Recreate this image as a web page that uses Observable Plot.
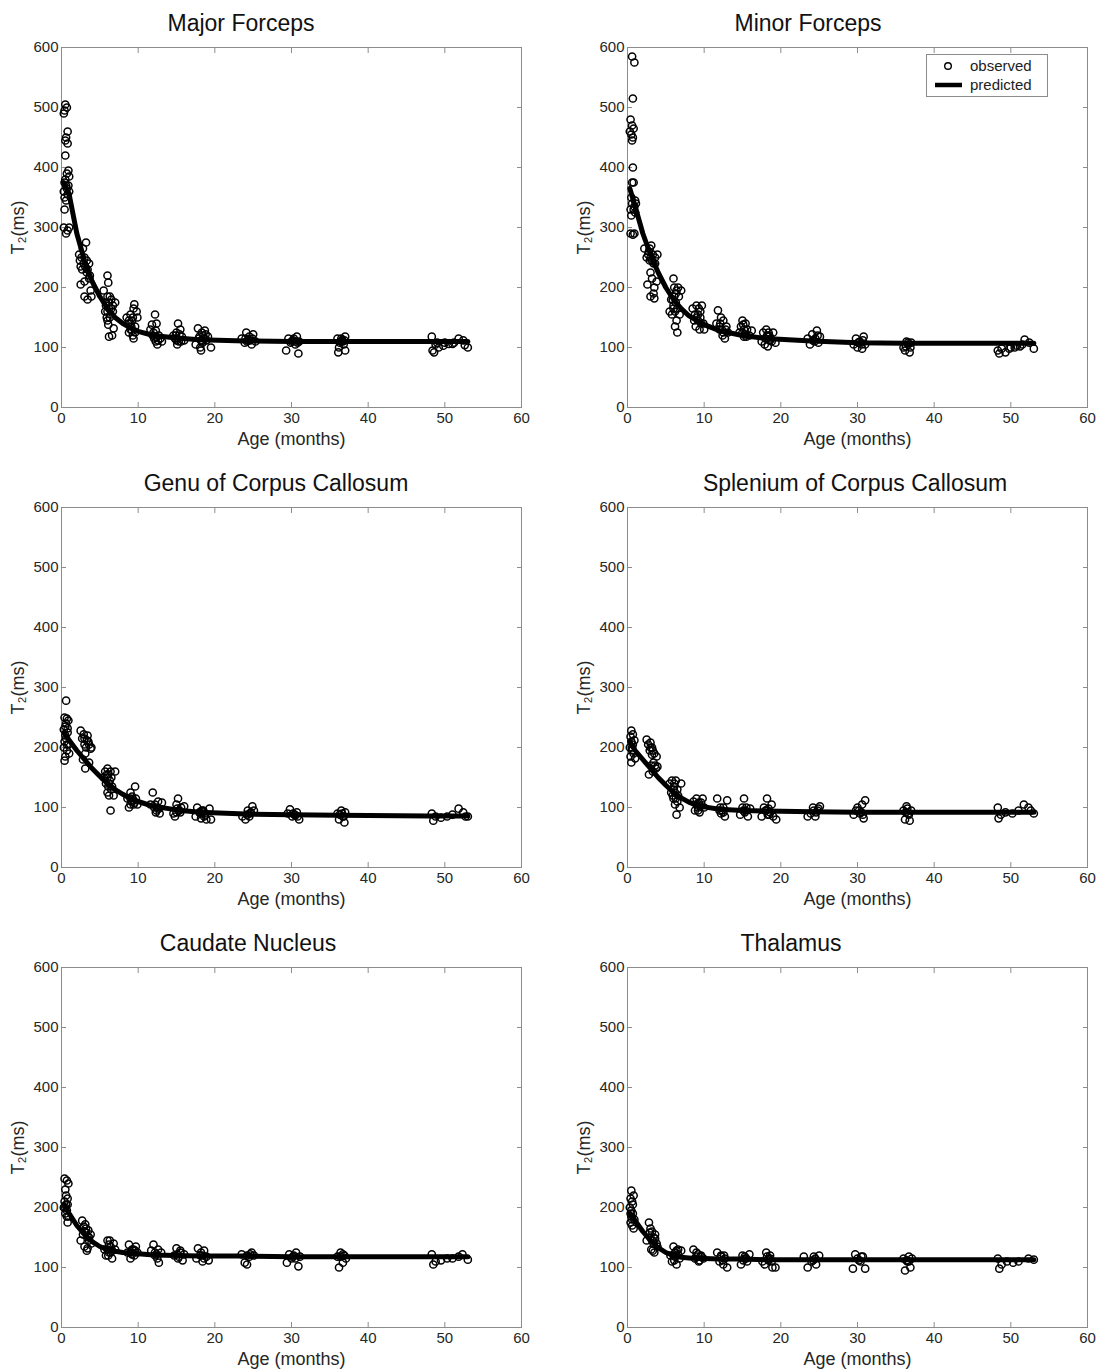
<!DOCTYPE html>
<html>
<head>
<meta charset="utf-8">
<script src="https://cdn.jsdelivr.net/npm/d3@7"></script>
<script src="https://cdn.jsdelivr.net/npm/@observablehq/plot@0.6"></script>
<style>
  body { margin: 0; background: #fff; }
  #fig { position: relative; width: 1100px; height: 1370px; font-family: "Liberation Sans", Arial, Helvetica, sans-serif; }
  .panel { position: absolute; width: 550px; height: 460px; }
  .panel svg { position: absolute; left: 0; top: 0; }
  .title { position: absolute; top: 12px; font-size: 23px; line-height: 23px; white-space: nowrap; color: #111; transform: translateX(-50%); }
  .legend { position: absolute; border: 1px solid #8c8c8c; background: #fff; font-size: 15px; color: #222; }
  .legend .row { position: absolute; left: 0; height: 18px; white-space: nowrap; }
  .legend .row span { position: absolute; left: 43px; top: 0; line-height: 18px; }
  .legend .row svg { position: absolute; left: 0; top: 0; }
</style>
</head>
<body>
<div id="fig"></div>
<script>
// ---------- data ----------
const panelTitles = ["Major Forceps", "Minor Forceps", "Genu of Corpus Callosum",
  "Splenium of Corpus Callosum", "Caudate Nucleus", "Thalamus"];
const xTicks = [0, 10, 20, 30, 40, 50, 60];
const yTicks = [0, 100, 200, 300, 400, 500, 600];
const xLabel = "Age (months)";
const yLabel = "T\u2082(ms)";
const legendLabels = ["observed", "predicted"];

// observed [age (months), T2 (ms)]
const majorObserved = [
  [0.5,505],[0.7,500],[0.4,495],[0.3,490],[0.8,460],[0.6,450],[0.5,445],[0.8,440],[0.5,420],[0.9,395],[0.7,390],[1.0,385],[0.4,375],[0.6,370],[1.0,360],[0.8,355],[0.4,350],[0.4,330],[0.3,300],[0.8,295],[0.6,290],[1.0,300],
  [0.5,380],[0.7,365],[0.9,370],[0.6,345],[0.3,360],
  [2.3,255],[2.5,235],[2.5,205],[2.8,265],[3.0,250],[3.0,210],[3.0,185],[3.2,275],[3.3,245],[3.3,225],[3.4,180],[3.6,240],[3.7,220],[3.8,195],[3.9,185],[2.7,230],
  [2.6,250],[2.9,240],[3.1,235],[3.4,230],[3.6,215],[2.4,245],
  [5.5,195],[5.7,160],[5.8,175],[5.9,150],[6.0,220],[6.0,185],[6.1,208],[6.1,138],[6.2,165],[6.2,118],[6.4,155],[6.5,180],[6.6,120],[6.8,132],[7.0,175],[6.7,160],
  [5.8,170],[6.0,160],[6.2,175],[6.3,150],[6.5,165],[6.7,170],[6.0,145],[6.3,185],
  [8.5,150],[8.7,140],[8.8,125],[9.0,155],[9.0,130],[9.2,145],[9.3,120],[9.4,165],[9.5,172],[9.6,135],[9.8,160],[9.9,150],[9.4,115],
  [8.8,145],[9.0,140],[9.2,128],[9.3,150],[9.6,125],[9.1,135],
  [11.6,130],[11.8,138],[12.0,125],[12.2,155],[12.3,110],[12.4,140],[12.5,105],[12.7,120],[12.9,115],[13.1,110],
  [11.9,120],[12.1,115],[12.3,128],[12.6,112],[12.2,118],
  [14.6,120],[14.8,115],[15.0,125],[15.2,140],[15.3,110],[15.5,130],[15.7,118],[16.0,112],[15.1,105],
  [14.9,120],[15.1,115],[15.4,122],[15.6,110],[15.0,112],
  [17.5,105],[17.8,132],[17.9,115],[18.1,100],[18.2,95],[18.3,125],[18.5,120],[18.7,128],[18.9,112],[19.1,118],[19.5,100],
  [18.0,118],[18.2,112],[18.4,108],[18.6,115],[18.8,122],[18.3,110],
  [23.5,115],[23.9,108],[24.1,125],[24.3,112],[24.5,118],[24.8,105],[25.0,122],[25.3,110],
  [24.0,115],[24.2,110],[24.6,112],[24.9,115],
  [29.3,95],[29.6,115],[29.9,108],[30.2,112],[30.5,105],[30.7,118],[30.9,90],[31.0,110],
  [30.0,110],[30.3,115],[30.6,110],[30.8,108],
  [36.0,115],[36.1,92],[36.2,100],[36.4,110],[36.6,112],[36.8,105],[37.0,118],[37.0,95],
  [36.3,108],[36.5,115],[36.7,110],[36.9,112],
  [48.3,118],[48.4,95],[48.6,92],[48.8,105],[49.2,100],[49.8,103],[50.5,106],[51.2,108],[51.8,115],[52.4,112],[52.6,104],[53.0,100],
  [49.0,108],[50.0,108],[51.0,106]
];
const minorObserved = [
  [0.6,585],[0.9,575],[0.7,515],[0.4,480],[0.6,470],[0.8,465],[0.3,460],[0.5,455],[0.7,450],[0.6,445],[0.7,400],[0.6,375],[0.8,375],[0.4,330],[0.5,320],[1.0,345],[0.9,335],[0.4,290],[0.7,288],[0.9,290],[1.1,340],
  [0.5,350],[0.6,340],[0.8,330],[1.0,325],
  [2.2,265],[2.5,250],[2.6,205],[2.8,260],[2.9,245],[3.0,225],[3.0,185],[3.1,270],[3.2,215],[3.3,255],[3.4,190],[3.5,200],[3.6,240],[3.8,210],[3.9,255],[3.5,182],
  [2.7,255],[3.0,250],[3.2,245],[3.4,240],[2.9,265],[3.6,250],
  [5.5,160],[5.7,180],[5.8,155],[6.0,215],[6.0,170],[6.1,200],[6.2,135],[6.3,190],[6.4,145],[6.5,125],[6.6,200],[6.8,155],[7.0,195],[6.5,165],
  [5.9,180],[6.1,185],[6.3,175],[6.4,195],[6.0,165],[6.7,185],[6.2,160],
  [8.5,165],[8.7,145],[8.9,135],[9.0,170],[9.2,155],[9.4,130],[9.5,150],[9.7,170],[9.9,140],[10.0,130],
  [8.8,155],[9.0,150],[9.2,145],[9.5,160],[9.6,140],[9.3,165],
  [11.6,140],[11.8,162],[12.0,130],[12.2,150],[12.4,120],[12.5,145],[12.7,115],[12.9,135],[13.1,125],
  [12.0,135],[12.3,130],[12.5,125],[12.8,130],[12.1,140],
  [14.6,125],[14.8,135],[15.0,145],[15.2,118],[15.4,140],[15.6,130],[15.9,120],[16.2,128],
  [15.0,125],[15.2,130],[15.3,122],[15.5,118],[15.1,138],
  [17.5,110],[17.7,125],[17.9,105],[18.1,130],[18.3,102],[18.5,120],[18.7,115],[19.0,125],[19.3,108],
  [18.0,115],[18.2,120],[18.4,125],[18.6,112],[18.3,118],[18.8,110],
  [23.5,115],[23.8,105],[24.1,122],[24.4,110],[24.7,128],[24.9,108],[25.1,118],
  [24.2,112],[24.5,115],[24.8,120],
  [29.5,105],[29.8,115],[30.0,100],[30.3,110],[30.6,98],[30.8,118],[31.0,105],
  [30.1,108],[30.5,105],[30.7,112],
  [36.0,100],[36.2,95],[36.4,110],[36.6,105],[36.8,92],[37.0,108],
  [36.3,102],[36.6,108],[36.9,100],
  [48.3,95],[48.5,90],[48.8,98],[49.3,92],[50.0,100],[50.8,103],[51.5,105],[51.8,113],[52.4,108],[53.0,98],
  [49.8,98],[50.5,100],[51.2,102]
];
const genuObserved = [
  [0.6,278],[0.4,250],[0.7,248],[0.9,245],[0.5,235],[0.3,230],[0.8,225],[0.6,215],[0.4,210],[0.9,205],[0.3,200],[0.7,195],[1.0,190],[0.5,185],[0.4,178],
  [0.5,220],[0.6,240],[0.8,232],[0.7,205],
  [2.5,228],[2.7,215],[2.9,222],[3.0,205],[3.1,165],[3.2,200],[3.4,220],[3.5,210],[3.6,175],[3.8,198],[3.9,200],[2.8,180],
  [3.0,215],[3.3,212],[3.6,205],[3.1,190],
  [5.5,150],[5.7,160],[5.8,140],[6.0,165],[6.0,125],[6.1,155],[6.2,120],[6.3,145],[6.4,95],[6.6,135],[6.8,120],[7.0,160],[6.5,150],
  [6.0,150],[6.2,140],[6.4,160],[6.5,130],[6.1,135],[5.9,155],
  [8.6,115],[8.8,100],[9.0,125],[9.2,110],[9.4,105],[9.6,135],[9.7,115],[9.9,105],
  [9.0,115],[9.2,118],[9.4,112],[9.5,108],[9.0,105],
  [11.6,105],[11.9,125],[12.1,100],[12.4,95],[12.6,110],[12.8,90],[13.1,108],
  [12.2,105],[12.5,100],[12.7,98],[12.3,92],
  [14.6,90],[14.8,85],[15.0,105],[15.2,115],[15.4,95],[15.6,100],[16.0,102],
  [15.1,98],[15.3,95],[15.5,92],[15.0,92],
  [17.5,85],[17.7,100],[18.0,92],[18.2,82],[18.5,95],[18.7,88],[18.9,80],[19.3,98],[19.5,80],
  [18.1,90],[18.3,95],[18.6,85],[18.4,92],
  [23.6,85],[24.0,80],[24.3,95],[24.6,90],[24.9,102],[25.1,95],
  [24.2,88],[24.5,85],[24.7,92],
  [29.5,90],[29.8,97],[30.1,85],[30.4,88],[30.7,92],[31.0,80],
  [30.2,90],[30.5,87],[30.8,85],
  [36.0,90],[36.2,80],[36.5,95],[36.7,85],[36.9,75],[37.0,92],
  [36.3,88],[36.6,90],[36.8,85],
  [48.3,90],[48.5,78],[48.8,85],[49.5,83],[50.3,85],[51.0,88],[51.8,98],[52.4,92],[52.7,85],[53.0,85]
];
const spleniumObserved = [
  [0.5,228],[0.7,222],[0.4,218],[0.9,212],[0.3,200],[0.6,195],[0.8,190],[0.4,185],[1.0,182],[0.5,175],
  [0.5,210],[0.7,205],[0.6,200],
  [2.5,213],[2.7,205],[2.9,195],[3.0,208],[3.1,170],[3.2,200],[3.3,160],[3.5,190],[3.7,165],[3.8,185],[3.9,168],[2.8,155],
  [3.0,200],[3.3,195],[3.4,175],[3.6,170],[3.2,188],
  [5.5,140],[5.7,125],[5.8,145],[6.0,115],[6.1,135],[6.2,105],[6.3,145],[6.4,88],[6.6,120],[6.8,100],[7.0,140],[6.5,130],
  [6.0,130],[6.2,125],[6.3,115],[6.5,110],[6.1,140],[5.9,120],
  [8.6,110],[8.8,95],[9.0,115],[9.2,100],[9.4,92],[9.6,108],[9.8,115],[10.0,100],
  [9.0,105],[9.3,108],[9.5,102],[9.2,95],
  [11.7,115],[12.0,95],[12.2,90],[12.5,100],[12.7,85],[13.0,112],
  [12.3,95],[12.5,92],[12.1,100],
  [14.7,88],[15.0,100],[15.2,115],[15.4,95],[15.7,85],[16.0,98],
  [15.1,95],[15.3,92],[15.5,100],
  [17.5,85],[17.8,100],[18.0,95],[18.2,115],[18.5,88],[18.8,105],[19.0,85],[19.4,80],
  [18.1,95],[18.4,98],[18.6,92],[18.3,88],
  [23.5,85],[23.9,90],[24.2,100],[24.5,85],[24.8,95],[25.1,102],
  [24.3,95],[24.6,92],[24.9,98],
  [29.5,88],[29.8,95],[30.0,100],[30.3,90],[30.6,105],[30.8,82],[31.0,112],
  [30.2,95],[30.5,92],[30.7,88],
  [36.0,95],[36.2,80],[36.4,102],[36.6,90],[36.8,78],[37.0,95],
  [36.3,92],[36.5,98],[36.7,88],
  [48.3,100],[48.4,82],[48.7,88],[49.3,92],[50.2,90],[51.0,95],[51.7,105],[52.3,100],[52.6,95],[53.0,90]
];
const caudateObserved = [
  [0.4,248],[0.7,245],[0.9,240],[0.5,230],[0.6,220],[0.4,210],[0.8,205],[0.3,200],[0.7,195],[0.5,190],[0.9,185],[0.8,175],
  [0.5,200],[0.6,205],[0.7,185],[0.8,215],
  [2.5,145],[2.7,178],[2.9,168],[3.0,135],[3.1,172],[3.2,158],[3.3,128],[3.5,162],[3.6,150],[3.8,155],[3.9,140],[3.4,132],
  [3.0,160],[3.2,165],[3.4,152],[3.6,145],[2.8,155],
  [5.6,130],[5.8,120],[6.0,145],[6.2,125],[6.4,135],[6.6,115],[6.8,140],[7.0,130],[6.3,145],
  [6.0,130],[6.2,138],[6.4,125],[6.6,128],[6.1,120],
  [8.6,125],[8.8,138],[9.0,115],[9.2,130],[9.5,120],[9.7,135],[9.9,125],
  [9.0,125],[9.2,122],[9.4,130],[9.6,128],
  [11.7,128],[12.0,138],[12.2,120],[12.5,115],[12.7,108],[13.0,125],
  [12.2,125],[12.4,122],[12.6,130],
  [14.7,120],[15.0,132],[15.2,115],[15.5,125],[15.8,112],[16.0,122],
  [15.1,122],[15.3,118],[15.5,128],
  [17.6,115],[17.8,132],[18.1,120],[18.4,110],[18.6,128],[18.9,118],[19.2,112],
  [18.2,125],[18.4,120],[18.6,115],
  [23.5,122],[23.9,108],[24.2,105],[24.5,118],[24.8,125],[25.1,120],
  [24.2,120],[24.6,122],
  [29.4,108],[29.7,122],[30.0,115],[30.3,120],[30.6,125],[30.9,102],[31.1,118],
  [30.2,118],[30.5,115],
  [36.0,118],[36.2,100],[36.4,125],[36.7,108],[36.9,120],[37.1,115],
  [36.4,118],[36.7,122],
  [48.3,122],[48.5,105],[48.8,110],[49.5,112],[50.3,115],[51.0,115],[51.8,118],[52.3,122],[53.0,113]
];
const thalamusObserved = [
  [0.5,228],[0.8,220],[0.4,215],[0.6,210],[0.3,200],[0.7,190],[0.5,185],[0.9,180],[0.4,175],[0.6,170],[0.8,165],
  [0.5,195],[0.6,180],[0.7,205],[0.4,190],
  [2.5,145],[2.8,175],[3.0,165],[3.1,130],[3.2,160],[3.4,150],[3.5,125],[3.6,155],[3.8,140],[3.9,135],[3.3,128],
  [3.0,150],[3.2,145],[3.4,140],[3.6,148],[2.9,158],
  [5.6,120],[5.8,110],[6.0,135],[6.2,125],[6.4,105],[6.6,130],[6.8,115],[7.0,128],
  [6.0,120],[6.2,118],[6.4,128],[6.6,122],[6.1,112],
  [8.6,130],[8.8,115],[9.0,125],[9.3,110],[9.6,120],[9.9,115],
  [9.0,118],[9.2,122],[9.4,112],[9.6,118],
  [11.7,125],[12.0,110],[12.2,120],[12.5,105],[12.7,115],[13.0,100],
  [12.2,118],[12.4,112],[12.6,120],
  [14.8,105],[15.0,120],[15.3,115],[15.6,110],[15.9,122],
  [15.1,112],[15.3,118],[15.5,115],
  [17.6,110],[17.9,105],[18.1,125],[18.4,115],[18.6,120],[18.9,100],[19.3,100],
  [18.2,118],[18.4,112],[18.6,115],[18.8,110],
  [23.0,118],[23.5,100],[24.0,110],[24.3,118],[24.6,105],[25.0,120],
  [24.2,112],[24.5,115],
  [29.4,98],[29.7,122],[30.0,115],[30.4,110],[30.7,118],[31.0,98],
  [30.2,112],[30.5,118],
  [36.0,115],[36.2,95],[36.5,110],[36.7,118],[36.9,100],[37.1,115],
  [36.4,112],[36.7,110],
  [48.3,115],[48.5,98],[48.8,105],[49.5,110],[50.3,108],[51.0,110],[52.3,115],[53.0,113]
];

// predicted curve [age (months), T2 (ms)]
const majorPredicted = [[0.3,375],[1,355],[2,290],[3,245],[4,210],[5,185],[6,165],[7,150],[8,140],[9,133],[10,127],[12,120],[15,116],[18,113],[24,111],[30,110],[36,110],[48,110],[53,110]];
const minorPredicted = [[0.3,365],[1,335],[2,290],[3,255],[4,225],[5,200],[6,180],[7,165],[8,153],[9,145],[10,138],[12,128],[15,120],[18,115],[24,111],[30,108],[36,107],[48,107],[53,107]];
const genuPredicted = [[0.3,225],[1,212],[2,195],[3,180],[4,165],[5,152],[6,140],[7,130],[8,122],[9,115],[10,110],[12,102],[15,96],[18,92],[24,89],[30,88],[36,87],[48,86],[53,86]];
const spleniumPredicted = [[0.3,210],[1,195],[2,180],[3,165],[4,150],[5,137],[6,125],[7,116],[8,109],[9,104],[10,101],[12,97],[15,95],[18,94],[24,93],[30,92],[36,92],[48,92],[53,92]];
const caudatePredicted = [[0.3,205],[1,190],[2,170],[3,155],[4,143],[5,135],[6,130],[7,127],[8,125],[9,124],[10,123],[12,121],[15,120],[18,119],[24,119],[30,118],[36,118],[48,118],[53,118]];
const thalamusPredicted = [[0.3,190],[1,178],[2,160],[3,145],[4,133],[5,125],[6,120],[7,117],[8,116],[9,115],[10,115],[12,114],[15,114],[18,113],[24,113],[30,113],[36,113],[48,113],[53,113]];

// ---------- layout / style ----------
const observedSets = [majorObserved, minorObserved, genuObserved, spleniumObserved, caudateObserved, thalamusObserved];
const predictedSets = [majorPredicted, minorPredicted, genuPredicted, spleniumPredicted, caudatePredicted, thalamusPredicted];
const titleCenters = [241, 258, 276, 305, 248, 241];
const FONT = '"Liberation Sans", Arial, Helvetica, sans-serif';
const frameColor = "#8c8c8c";
const textColor = "#262626";

const fig = document.getElementById("fig");

panelTitles.forEach((title, i) => {
  const col = i % 2, row = Math.floor(i / 2);
  const panel = document.createElement("div");
  panel.className = "panel";
  panel.style.left = (col * 550) + "px";
  panel.style.top = (row * 460) + "px";

  const marginLeft = col === 0 ? 61 : 77;
  const marginRight = col === 0 ? 29 : 13;

  const tickAxis = (fn, anchor, ticks) => fn(ticks, {anchor, tickSize: -5, fill: "none", stroke: frameColor, label: null});

  const chart = Plot.plot({
    width: 550, height: 460,
    marginLeft, marginRight, marginTop: 47, marginBottom: 53,
    style: {fontFamily: FONT, background: "transparent", color: textColor},
    x: {domain: [0, 60]},
    y: {domain: [0, 600]},
    marks: [
      Plot.frame({stroke: frameColor}),
      tickAxis(Plot.axisY, "left", yTicks),
      tickAxis(Plot.axisY, "right", yTicks),
      tickAxis(Plot.axisX, "bottom", xTicks),
      tickAxis(Plot.axisX, "top", xTicks),
      Plot.axisY(yTicks, {anchor: "left", tickSize: 0, tickPadding: 3, fontSize: 15, fill: textColor, label: null}),
      Plot.axisX(xTicks, {anchor: "bottom", tickSize: 0, tickPadding: 5, fontSize: 15, fill: textColor, label: null}),
      Plot.axisY([], {anchor: "left", tickSize: 0, fontSize: 18, fill: textColor, label: yLabel, labelAnchor: "center", labelArrow: "none", labelOffset: 50}),
      Plot.axisX([], {anchor: "bottom", tickSize: 0, fontSize: 18, fill: textColor, label: xLabel, labelAnchor: "center", labelArrow: "none", labelOffset: 37}),
      Plot.dot(observedSets[i], {x: d => d[0], y: d => d[1], r: 3.6, stroke: "#000", strokeWidth: 1.5, fill: "none"}),
      Plot.line(predictedSets[i], {x: d => d[0], y: d => d[1], stroke: "#000", strokeWidth: 5, strokeLinejoin: "round"})
    ]
  });
  panel.appendChild(chart);

  const t = document.createElement("div");
  t.className = "title";
  t.textContent = title;
  t.style.left = titleCenters[i] + "px";
  panel.appendChild(t);

  fig.appendChild(panel);
});

// legend (in Minor Forceps panel)
const legend = document.createElement("div");
legend.className = "legend";
legend.style.left = "926px";
legend.style.top = "54px";
legend.style.width = "120px";
legend.style.height = "41px";
legendLabels.forEach((lab, k) => {
  const r = document.createElement("div");
  r.className = "row";
  r.style.top = (2 + k * 19) + "px";
  r.style.width = "120px";
  const sym = k === 0
    ? '<svg width="40" height="18"><circle cx="21" cy="9" r="3.3" fill="none" stroke="#000" stroke-width="1.4"/></svg>'
    : '<svg width="40" height="18"><line x1="8" x2="35" y1="9" y2="9" stroke="#000" stroke-width="4.5"/></svg>';
  r.innerHTML = sym + '<span>' + lab + '</span>';
  legend.appendChild(r);
});
fig.appendChild(legend);
</script>
</body>
</html>
